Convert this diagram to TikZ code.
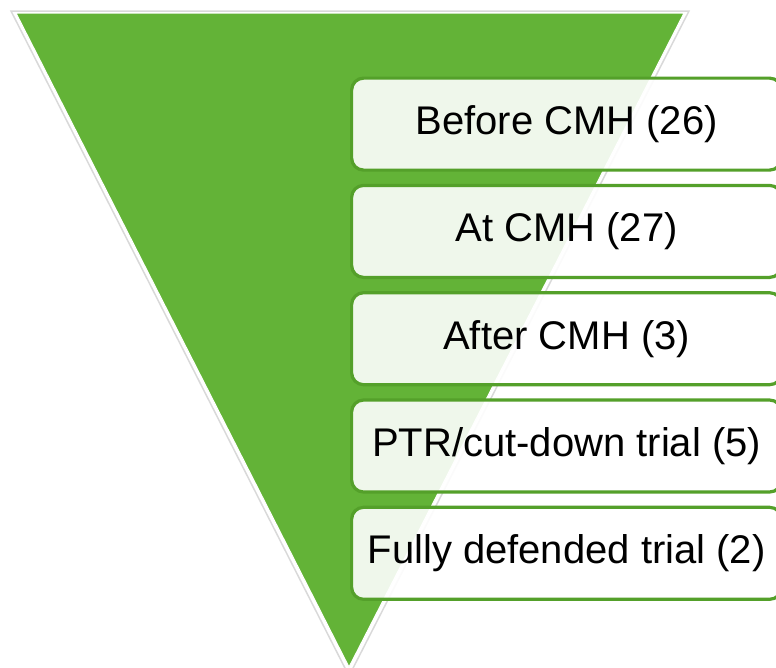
\documentclass[tikz,border=0pt]{standalone}
\usepackage{fontspec}
\setmainfont{Liberation Sans}
\usetikzlibrary{positioning}
\definecolor{FunnelGreen}{RGB}{99,179,55}
\definecolor{EdgeGreen}{RGB}{84,160,42}
\tikzset{funnel layout/.style={%
    y=-1pt,
    x=1pt,
    node distance=12.1pt,
    every node/.style={%
        draw=EdgeGreen, line width=3.2pt, fill=white, fill opacity=0.9, text opacity=1, draw opacity=1,
        rounded corners=12pt, minimum width=430pt, minimum height=92pt, inner sep=0pt,
        font=\fontsize{40}{48}\selectfont
    }
}}

\begin{document}
\begin{tikzpicture}[funnel layout]
            \useasboundingbox (0,0) rectangle (776,667);
            \draw[gray!30, line width=1.5pt] (11,11) -- (689,11) -- (349,676) -- cycle;
            \fill[FunnelGreen, draw=white, line width=1pt] (16,13) -- (684,13) -- (349,667) -- cycle;

            \foreach \lbl [count=\i] in {Before CMH (26), At CMH (27), After CMH (3), PTR/cut-down trial (5), Fully defended trial (2)} {
                \ifnum\i=1
                \node (s\i) at (350,76.5) [anchor=north west] {\lbl};
                \else
                \pgfmathtruncatemacro{\prev}{\i-1}
                \node (s\i) [below=of s\prev] {\lbl};
                \fi
            }
        \end{tikzpicture}
\end{document}
